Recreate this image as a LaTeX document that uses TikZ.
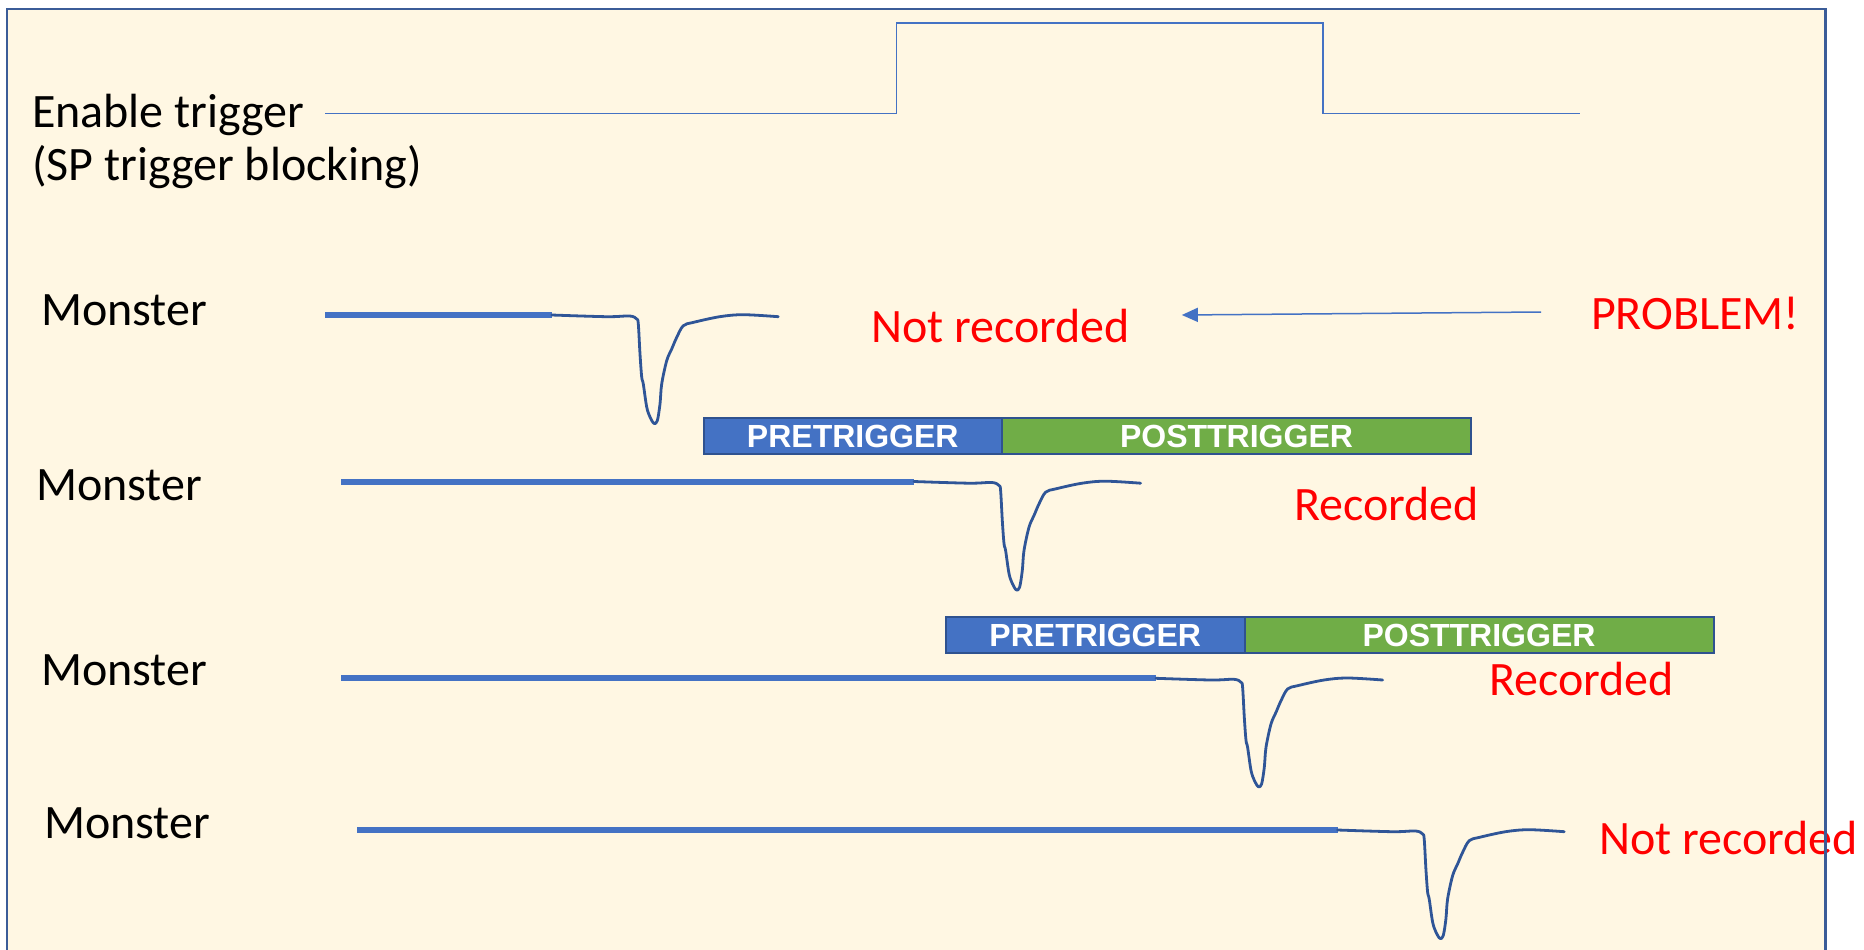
\documentclass[tikz,border=0pt]{standalone}
\usepackage{fontspec}
\setmainfont{Carlito}
\newfontfamily\barfont{Liberation Sans}
\usetikzlibrary{arrows.meta}

\definecolor{paper}{HTML}{FFF7E3}
\definecolor{framecol}{HTML}{3B5C98}
\definecolor{sigblue}{HTML}{4472C4}
\definecolor{pulseblue}{HTML}{2F5597}
\definecolor{boxedge}{HTML}{2F528F}
\definecolor{postgreen}{HTML}{70AD47}
\definecolor{alarm}{HTML}{FF0000}

\begin{document}
\begin{tikzpicture}[x=1pt,y=-1pt,
  lbl/.style={anchor=base west, inner sep=0pt, outer sep=0pt,
    font=\fontsize{48pt}{57pt}\selectfont},
  blacklbl/.style={lbl, text=black},
  redlbl/.style={lbl, text=alarm},
  enline/.style={draw=sigblue, line width=1.5pt},
  quietline/.style={draw=sigblue, line width=6pt},
  pulseline/.style={draw=pulseblue, line width=2.8pt, line join=round, line cap=round},
  winbox/.style={draw=boxedge, line width=2pt, inner sep=0pt, outer sep=0pt,
    minimum height=36pt, text=white,
    font=\barfont\bfseries\fontsize{32pt}{36pt}\selectfont},
  prebox/.style={winbox, fill=sigblue, minimum width=298.5pt, anchor=north west},
  postbox/.style={winbox, fill=postgreen, minimum width=469pt, anchor=west},
  pointer/.style={draw=sigblue, line width=1.5pt,
    -{Triangle[length=16pt,width=14pt]}},
  spike/.pic={
    \draw[pulseline] plot[smooth, tension=0.55] coordinates {
      (0,0) (55,1.7) (78,1) (85,4) (86.6,9) (88.3,39) (90,62) (91.6,69)
      (95,92) (98.3,102) (102.3,108.4) (105.6,105.7) (108.3,89) (110,69)
      (115,45.7) (120,34) (125,22.4) (131.6,10.7) (141.6,7.4) (168,1.7)
      (191.6,-0.3) (226.6,1.7)};
  }
]
\useasboundingbox (0,0) rectangle (1864,950);

% page and panel background
\fill[white] (0,0) rectangle (1864,950);
\fill[paper] (7,9) rectangle (1825.5,960);

% enable trigger signal
\node[blacklbl] (en1) at (32,128) {Enable trigger};
\node[blacklbl] (en2) at (32,180) {(SP trigger blocking)};
\draw[enline] (325,113.5) -- (896.7,113.5) -- (896.7,23) -- (1322.8,23)
  -- (1322.8,113.5) -- (1579.7,113.5);

% monster signals
\node[blacklbl] (m1) at (41,325) {Monster};
\node[blacklbl] (m2) at (36,500) {Monster};
\node[blacklbl] (m3) at (41,685) {Monster};
\node[blacklbl] (m4) at (44,838) {Monster};

\draw[quietline] (325,315) -- (551.7,315);
\pic at (551.7,315) {spike};
\draw[quietline] (341,481.5) -- (914,481.5);
\pic at (914,481.5) {spike};
\draw[quietline] (341,678.3) -- (1156,678.3);
\pic at (1156,678.3) {spike};
\draw[quietline] (357,830) -- (1337.6,830);
\pic at (1337.6,830) {spike};

% recording windows
\node[prebox] (preA) at (703.5,418) {PRETRIGGER};
\node[postbox] (postA) at (preA.east) {POSTTRIGGER};
\node[prebox] (preB) at (946,617) {PRETRIGGER};
\node[postbox] (postB) at (preB.east) {POSTTRIGGER};

% outcome labels
\node[redlbl] (nr1) at (871,342) {Not recorded};
\node[redlbl] (prob) at (1591,329) {PROBLEM!};
\node[redlbl] (rec2) at (1294,520) {Recorded};
\node[redlbl] (rec3) at (1489,695) {Recorded};
\node[redlbl] (nr4) at (1599,854) {Not recorded};

\coordinate (tail) at ([shift={(-50,-17)}]prob.base west);
\coordinate (tip) at ([shift={(52,-27)}]nr1.base east);
\draw[pointer] (tail) -- (tip);

% panel frame
\draw[framecol, line width=2.5pt, line join=miter]
  (7,960) -- (7,9) -- (1825.5,9) -- (1825.5,960);
\end{tikzpicture}
\end{document}
